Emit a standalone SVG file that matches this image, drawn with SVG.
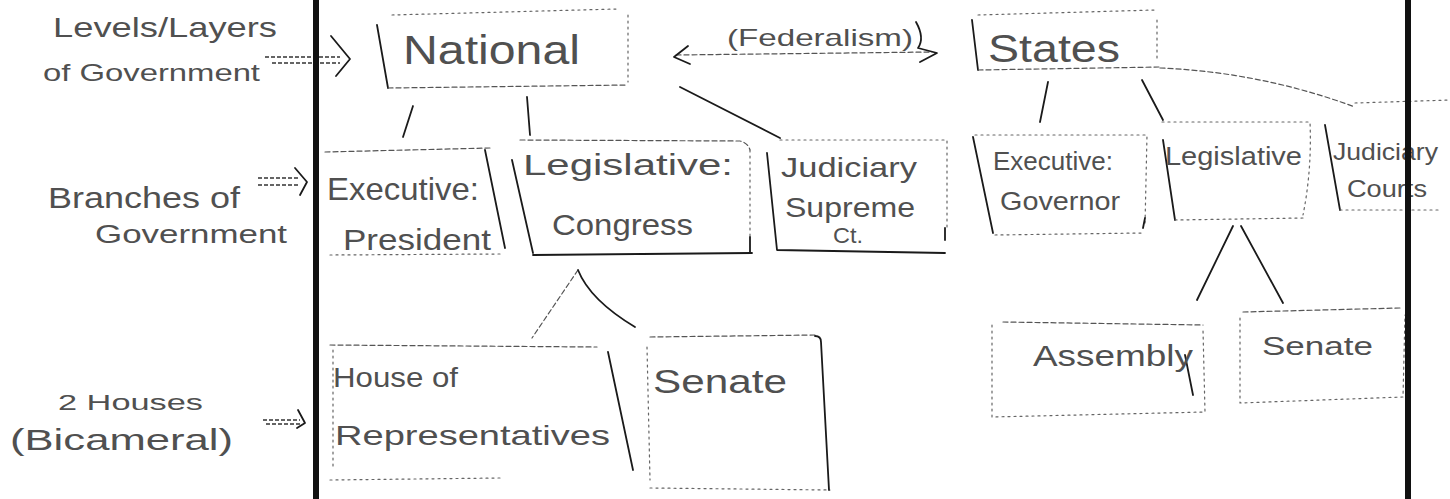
<svg xmlns="http://www.w3.org/2000/svg" width="1450" height="499" viewBox="0 0 1450 499">
<style>
text{font-family:"Liberation Sans","Open Sans",sans-serif;fill:#505050}
.solid{fill:none;stroke:#1a1a1a;stroke-width:1.8;stroke-linecap:round;stroke-linejoin:round}
.dash{fill:none;stroke:#555;stroke-width:1.2;stroke-dasharray:5 3;stroke-linecap:round}
.dot{fill:none;stroke:#666;stroke-width:1.2;stroke-dasharray:2 4;stroke-linecap:round}
.hatch{fill:none;stroke:#333;stroke-width:1.4;stroke-dasharray:4 2}
.bar{fill:#111}
</style>
<rect width="1450" height="499" fill="#fff"/>

<g id="labels">
<text x="53" y="37" font-size="28" textLength="224" lengthAdjust="spacingAndGlyphs">Levels/Layers</text>
<text x="43" y="81" font-size="24" textLength="217" lengthAdjust="spacingAndGlyphs">of Government</text>
<text x="48" y="208" font-size="30" textLength="192" lengthAdjust="spacingAndGlyphs">Branches of</text>
<text x="95" y="243" font-size="26" textLength="192" lengthAdjust="spacingAndGlyphs">Government</text>
<text x="58" y="410" font-size="22" textLength="145" lengthAdjust="spacingAndGlyphs">2 Houses</text>
<text x="10" y="450" font-size="30" textLength="223" lengthAdjust="spacingAndGlyphs">(Bicameral)</text>
</g>

<g id="connectors">
<path class="hatch" d="M265 57 L340 57 M272 63 L340 63"/>
<path class="solid" d="M331 36 L350 59 L336 76"/>
<path class="hatch" d="M258 178 L300 178 M258 185 L300 185"/>
<path class="solid" d="M295 168 L307 182 L300 195"/>
<path class="hatch" d="M263 420 L300 420 M266 424 L300 424"/>
<path class="solid" d="M298 410 L305 423 L297 428"/>
<path class="dash" d="M676 55 L932 52"/>
<path class="solid" d="M688 46 L674 57 L690 64"/>
<path class="solid" d="M916 22 Q925 38 918 48 L937 53 L920 62"/>
<path class="solid" d="M413 106 L403 137"/>
<path class="solid" d="M527 97 L530 135"/>
<path class="solid" d="M680 87 L780 138"/>
<path class="solid" d="M1048 82 L1040 122"/>
<path class="solid" d="M1142 80 L1163 120"/>
<path class="dash" d="M1160 68 Q1260 72 1355 107"/>
<path class="dot" d="M1355 103 L1450 100"/>
<path class="dash" d="M578 270 L532 338"/>
<path class="solid" d="M578 270 Q590 300 635 327"/>
<path class="solid" d="M1233 226 L1197 300"/>
<path class="solid" d="M1241 226 L1283 303"/>
</g>

<g id="national">
<path class="solid" d="M377 25 L388 88"/>
<path class="dash" d="M388 88 L627 85"/>
<path class="dot" d="M392 15 L617 9 M628 15 L628 82"/>
<text x="403" y="64" font-size="40" textLength="177" lengthAdjust="spacingAndGlyphs">National</text>
</g>

<g id="federalism-label">
<text x="727" y="46" font-size="24" textLength="186" lengthAdjust="spacingAndGlyphs">(Federalism)</text>
</g>

<g id="states">
<path class="solid" d="M972 20 L978 70"/>
<path class="dash" d="M978 70 L1160 67"/>
<path class="dot" d="M978 15 L1155 10 M1157 20 L1157 60"/>
<text x="988" y="62" font-size="38" textLength="132" lengthAdjust="spacingAndGlyphs">States</text>
</g>

<g id="executive-president">
<path class="dash" d="M325 152 L490 148"/>
<path class="solid" d="M485 150 L505 248"/>
<path class="dot" d="M330 255 L500 254"/>
<text x="327" y="200" font-size="32" textLength="152" lengthAdjust="spacingAndGlyphs">Executive:</text>
<text x="343" y="250" font-size="30" textLength="148" lengthAdjust="spacingAndGlyphs">President</text>
</g>

<g id="legislative-congress">
<path class="solid" d="M512 160 L533 253"/>
<path class="dash" d="M520 140 L740 141 Q748 143 750 150"/>
<path class="dot" d="M750 150 L750 240"/>
<path class="solid" d="M533 255 L752 253 M750 237 L750 252"/>
<text x="523" y="175" font-size="30" textLength="210" lengthAdjust="spacingAndGlyphs">Legislative:</text>
<text x="552" y="235" font-size="30" textLength="141" lengthAdjust="spacingAndGlyphs">Congress</text>
</g>

<g id="judiciary-supreme">
<path class="solid" d="M767 153 Q772 200 777 250 L945 253"/>
<path class="dot" d="M780 140 L947 140 L947 228"/>
<path class="solid" d="M945 228 L945 240"/>
<text x="781" y="177" font-size="28" textLength="136" lengthAdjust="spacingAndGlyphs">Judiciary</text>
<text x="785" y="217" font-size="28" textLength="130" lengthAdjust="spacingAndGlyphs">Supreme</text>
<text x="833" y="243" font-size="22" textLength="30" lengthAdjust="spacingAndGlyphs">Ct.</text>
</g>

<g id="executive-governor">
<path class="solid" d="M973 137 L993 233"/>
<path class="dot" d="M975 135 L1147 135 L1145 225 M995 235 L1143 233"/>
<path class="solid" d="M1145 218 L1143 228"/>
<text x="993" y="170" font-size="26" textLength="120" lengthAdjust="spacingAndGlyphs">Executive:</text>
<text x="1000" y="210" font-size="26" textLength="120" lengthAdjust="spacingAndGlyphs">Governor</text>
</g>

<g id="legislative-state">
<path class="solid" d="M1163 140 L1175 220"/>
<path class="dot" d="M1162 122 L1310 122 Q1312 170 1303 215 M1175 220 L1303 218"/>
<text x="1165" y="165" font-size="26" textLength="137" lengthAdjust="spacingAndGlyphs">Legislative</text>
</g>

<g id="judiciary-courts">
<path class="solid" d="M1325 125 L1340 210"/>
<path class="dot" d="M1340 210 L1440 210"/>
<text x="1333" y="160" font-size="24" textLength="105" lengthAdjust="spacingAndGlyphs">Judiciary</text>
<text x="1347" y="197" font-size="24" textLength="80" lengthAdjust="spacingAndGlyphs">Courts</text>
</g>

<g id="house-of-representatives">
<path class="dash" d="M330 345 L597 347"/>
<path class="solid" d="M608 352 L633 470"/>
<path class="dot" d="M330 480 L500 478 M333 350 L333 470"/>
<text x="333" y="387" font-size="28" textLength="125" lengthAdjust="spacingAndGlyphs">House of</text>
<text x="335" y="445" font-size="28" textLength="275" lengthAdjust="spacingAndGlyphs">Representatives</text>
</g>

<g id="senate-national">
<path class="dot" d="M647 347 L650 480 M650 488 L830 490"/>
<path class="dash" d="M650 337 L815 335"/>
<path class="solid" d="M815 336 Q821 336 821 342 L829 490"/>
<text x="653" y="393" font-size="34" textLength="134" lengthAdjust="spacingAndGlyphs">Senate</text>
</g>

<g id="assembly">
<path class="dash" d="M1003 322 L1203 325"/>
<path class="dot" d="M992 325 L992 417 L1205 412 L1203 330"/>
<path class="solid" d="M1185 355 L1193 395"/>
<text x="1033" y="366" font-size="30" textLength="160" lengthAdjust="spacingAndGlyphs">Assembly</text>
</g>

<g id="senate-state">
<path class="dash" d="M1243 312 L1400 308"/>
<path class="dot" d="M1240 318 L1240 403 L1403 397 L1405 315"/>
<text x="1262" y="355" font-size="26" textLength="111" lengthAdjust="spacingAndGlyphs">Senate</text>
</g>

<rect class="bar" x="313" y="0" width="6" height="499"/>
<rect class="bar" x="1405" y="0" width="6" height="499"/>
</svg>
